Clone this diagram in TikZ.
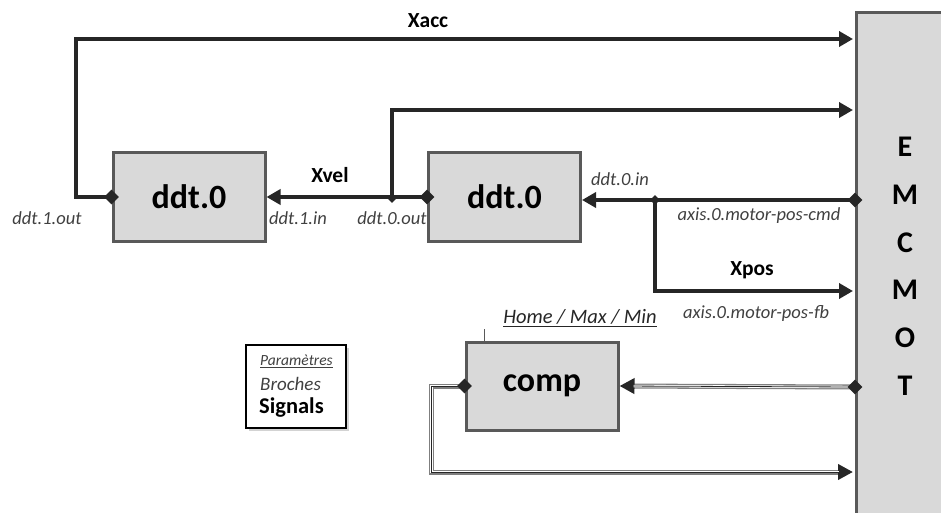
\documentclass[tikz,border=0pt]{standalone}
\usepackage{fontspec}
\setmainfont{Carlito}
\usetikzlibrary{arrows.meta,shapes.geometric,shadows}
\definecolor{dark}{HTML}{262626}
\definecolor{boxfill}{HTML}{D9D9D9}
\definecolor{boxline}{HTML}{595959}
\definecolor{lbl}{HTML}{404040}
\definecolor{dgray}{HTML}{7F7F7F}
\tikzset{
  blk/.style={draw=boxline, fill=boxfill, line width=3pt, minimum width=152pt, minimum height=88pt, inner sep=0pt, font=\fontsize{34}{34}\selectfont\bfseries, text=black},
  sig/.style={draw=dark, line width=4pt, -{Triangle[length=14pt,width=15pt]}},
  dbl/.style={draw=dgray, line width=5pt, -{Triangle[length=15pt,width=15pt,color=dark]},
     postaction={draw=white, line width=2.4pt, -, shorten >=14pt},
     postaction={draw=dark, line width=0.8pt, -, shorten >=14pt}},
  pinmark/.style={diamond, fill=dark, inner sep=0pt, minimum width=15pt, minimum height=15pt},
  jct/.style={diamond, fill=dark, inner sep=0pt, minimum width=10pt, minimum height=10pt},
  signame/.style={font=\fontsize{21.5}{21.5}\selectfont\bfseries, text=black},
  pname/.style={font=\fontsize{18.5}{18.5}\selectfont\itshape, text=lbl},
  emcletter/.style={font=\fontsize{30}{30}\selectfont\bfseries, text=black}
}
\begin{document}
\begin{tikzpicture}[x=1pt,y=-1pt]
\useasboundingbox (0,0) rectangle (941,513);
% EMCMOT
\node[draw=boxline, fill=boxfill, line width=3pt, anchor=north west, minimum width=110pt, minimum height=530pt, inner sep=0pt] (emc) at (855,11) {};
\foreach \l/\y [count=\i] in {E/147,M/195,C/243,M/290,O/338,T/386}
  \node[emcletter] (L\i) at (905,\y) {\l};
% blocks
\node[blk] (ddtA) at (189,197) {ddt.0};
\node[blk] (ddtB) at (504.5,197) {ddt.0};
\node[blk] (comp) at (542,386) {comp};
% coordinates on emc
\coordinate (accin) at (853,39);
\coordinate (velin) at (853,110);
\coordinate (cmdout) at (855,200);
\coordinate (posin) at (853,291);
\coordinate (hmout) at (855,387);
\coordinate (cmpin) at (853,472);
\coordinate (j1) at (392,198);
\coordinate (j2) at (655,200);
% connectors
\draw[sig] (ddtA.west) -- ++(-36,0) |- (accin);
\draw[sig] (ddtB.west) -- (ddtA.east);
\draw[sig] (j1) |- (velin);
\draw[sig] (cmdout) -- (cmdout -| ddtB.east);
\draw[sig] (j2) |- (posin);
\draw[dbl] (hmout) -- (comp.east);
\draw[dbl] (comp.west) -- ++(-33,0) |- (cmpin);
% pins
\node[pinmark] (p1) at (ddtA.west) {};
\node[pinmark] (p2) at (ddtB.west) {};
\node[pinmark] (p3) at (cmdout) {};
\node[pinmark] (p4) at (hmout) {};
\node[pinmark] (p5) at (comp.west) {};
\node[jct] (jj1) at (j1) {};
\node[jct] (jj2) at (j2) {};
% tick on comp
\draw[boxline, line width=1.5pt] ([xshift=20pt]comp.north west) -- ++(0,-12);
% labels
\node[signame] (tacc) at (428,21) {Xacc};
\node[signame] (tvel) at (330,175) {Xvel};
\node[signame] (tpos) at (752,270) {Xpos};
\node[pname] (l1) at (47,218) {ddt.1.out};
\node[pname] (l2) at (298,218) {ddt.1.in};
\node[pname] (l3) at (392,218) {ddt.0.out};
\node[pname] (l4) at (620,179) {ddt.0.in};
\node[pname] (l5) at (759,216) {axis.0.motor-pos-cmd};
\node[pname] (l6) at (756,313) {axis.0.motor-pos-fb};
\node[font=\fontsize{20.5}{20.5}\selectfont\itshape, text=dark] (hmm) at (580,318) {\underline{Home / Max / Min}};
% legend
\node[draw=black, fill=white, line width=1.5pt, minimum width=100pt, minimum height=83pt, drop shadow={opacity=0.35, shadow xshift=2.5pt, shadow yshift=-2.5pt}] (leg) at (296,386.5) {};
\node[anchor=west, inner sep=0pt, font=\fontsize{15.5}{15.5}\selectfont\itshape, text=lbl] (lg1) at (260,361) {\underline{Paramètres}};
\node[anchor=west, inner sep=0pt, font=\fontsize{19}{19}\selectfont\itshape, text=lbl] (lg2) at (260,384) {Broches};
\node[anchor=west, inner sep=0pt, font=\fontsize{22.5}{22.5}\selectfont\bfseries, text=black] (lg3) at (259,408) {Signals};
\end{tikzpicture}
\end{document}
